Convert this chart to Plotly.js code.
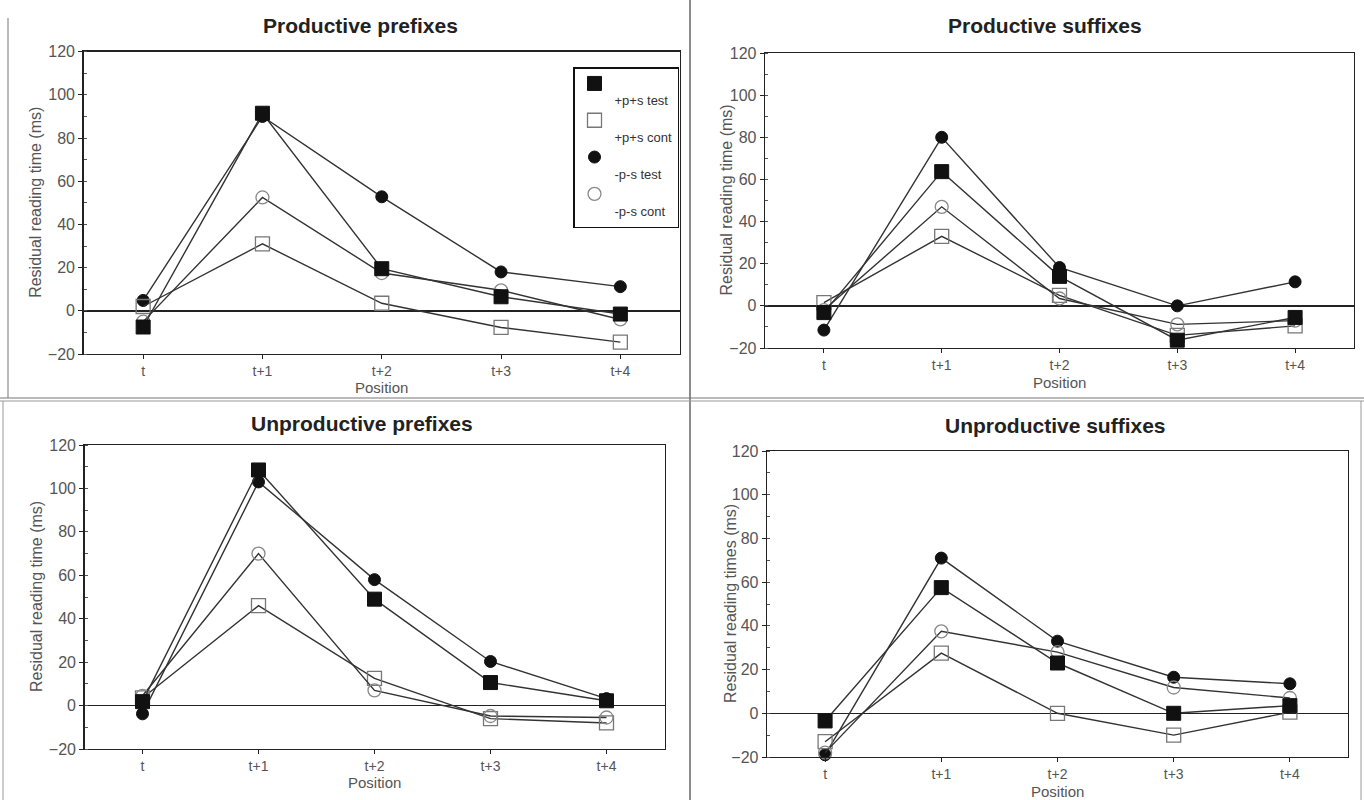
<!DOCTYPE html>
<html>
<head>
<meta charset="utf-8">
<script src="https://cdn.plot.ly/plotly-3.0.1.min.js"></script>
<style>html,body{margin:0;padding:0;background:#fff;}#chart{width:1364px;height:800px;}</style>
</head>
<body>
<div id="chart"></div>
<script>
// Categories (x positions)
const positions = ['t', 't+1', 't+2', 't+3', 't+4'];
const seriesNames = ['+p+s test', '+p+s cont', '-p-s test', '-p-s cont'];
const panelTitles = ['Productive prefixes', 'Productive suffixes', 'Unproductive prefixes', 'Unproductive suffixes'];
const yTitles = ['Residual reading time (ms)', 'Residual reading time (ms)', 'Residual reading time (ms)', 'Residual reading times (ms)'];
const yTickVals = [-20, 0, 20, 40, 60, 80, 100, 120];

// Productive prefixes
const prodPre_ppsTest = [-7.5, 91.5, 19.5, 6.5, -1.5];
const prodPre_ppsCont = [2, 31, 3.5, -7.7, -14.5];
const prodPre_mmsTest = [4.8, 90, 52.8, 18, 11.2];
const prodPre_mmsCont = [-5, 52.5, 17.5, 9.5, -4];

// Productive suffixes
const prodSuf_ppsTest = [-3.2, 63.7, 14, -16.3, -5.5];
const prodSuf_ppsCont = [1.5, 33, 5, -14, -9.5];
const prodSuf_mmsTest = [-11.5, 80, 18.2, 0, 11.4];
const prodSuf_mmsCont = [-2, 47, 3.5, -8.8, -7];

// Unproductive prefixes
const unprodPre_ppsTest = [1.8, 108.5, 49, 10.6, 2.2];
const unprodPre_ppsCont = [3.5, 46, 12.5, -6, -8];
const unprodPre_mmsTest = [-3.8, 103, 58, 20.3, 3.2];
const unprodPre_mmsCont = [4.5, 70, 7, -4.8, -5.5];

// Unproductive suffixes
const unprodSuf_ppsTest = [-3.5, 57.5, 23, 0, 3.5];
const unprodSuf_ppsCont = [-13, 27.5, 0, -10, 0.5];
const unprodSuf_mmsTest = [-19, 71, 33, 16.5, 13.5];
const unprodSuf_mmsCont = [-18, 37.5, 28, 11.8, 7];

const panels = [
  [prodPre_ppsTest, prodPre_ppsCont, prodPre_mmsTest, prodPre_mmsCont],
  [prodSuf_ppsTest, prodSuf_ppsCont, prodSuf_mmsTest, prodSuf_mmsCont],
  [unprodPre_ppsTest, unprodPre_ppsCont, unprodPre_mmsTest, unprodPre_mmsCont],
  [unprodSuf_ppsTest, unprodSuf_ppsCont, unprodSuf_mmsTest, unprodSuf_mmsCont]
];

// styles per series
const markerStyles = [
  {symbol: 'square', size: 14, color: '#111', line: {color: '#111', width: 1}},
  {symbol: 'square-open', size: 14, color: '#777', line: {color: '#777', width: 1.3}},
  {symbol: 'circle', size: 12, color: '#111', line: {color: '#111', width: 1}},
  {symbol: 'circle-open', size: 13, color: '#888', line: {color: '#888', width: 1.3}}
];
const drawOrder = [2, 1, 3, 0];

// pixel-based domains (paper 1364 x 800)
const W = 1364, H = 800;
const boxes = [
  {l: 83.5, r: 680, t: 51.7, b: 354},
  {l: 765, r: 1354, t: 53, b: 348},
  {l: 84.5, r: 664.5, t: 445, b: 749},
  {l: 767, r: 1348, t: 451, b: 757}
];
const titlePos = [
  {x: 360, y: 25}, {x: 1045, y: 25}, {x: 362, y: 423}, {x: 1055, y: 425}
];
const posTitleY = [387, 382, 782, 791];
const yTitleX = [36, 726, 36, 730];

const FONT = '"Liberation Sans Narrow", "Liberation Sans", Arial, sans-serif';
const traces = [];
const layout = {
  width: W, height: H,
  margin: {l: 0, r: 0, t: 0, b: 0},
  paper_bgcolor: '#ffffff',
  plot_bgcolor: '#ffffff',
  font: {family: FONT, color: '#444', size: 15},
  showlegend: true,
  legend: {
    x: 573 / W, y: 1 - 67 / H, xanchor: 'left', yanchor: 'top',
    bgcolor: '#ffffff', bordercolor: '#111', borderwidth: 1.5,
    font: {family: FONT, size: 13, color: '#333'},
    valign: 'top', itemwidth: 30, tracegroupgap: 0
  },
  annotations: [],
  shapes: []
};

// legend-only entries (marker symbol only, no data points)
seriesNames.forEach((nm, s) => {
  traces.push({
    type: 'scatter', mode: 'markers', x: [null], y: [null],
    name: '<br>' + nm, legendrank: s + 1, showlegend: true,
    marker: markerStyles[s], hoverinfo: 'skip'
  });
});

panels.forEach((vals, p) => {
  const ax = p === 0 ? '' : String(p + 1);
  const b = boxes[p];
  drawOrder.forEach(s => {
    traces.push({
      type: 'scatter', mode: 'lines+markers',
      x: positions, y: vals[s],
      xaxis: 'x' + ax, yaxis: 'y' + ax,
      name: seriesNames[s],
      showlegend: false,
      line: {color: '#333', width: 1.4},
      marker: markerStyles[s],
      cliponaxis: false
    });
  });
  layout['xaxis' + ax] = {
    domain: [b.l / W, b.r / W],
    anchor: 'y' + ax,
    type: 'category',
    range: [-0.5, 4.5],
    showline: true, mirror: true, linecolor: '#222', linewidth: 1.3,
    ticks: 'outside', ticklen: 4, tickcolor: '#222', tickwidth: 1,
    showgrid: false, zeroline: false,
    tickfont: {family: FONT, size: 14, color: '#555'},
    fixedrange: true
  };
  layout['yaxis' + ax] = {
    domain: [1 - b.b / H, 1 - b.t / H],
    anchor: 'x' + ax,
    range: [-20, 120],
    tickvals: yTickVals,
    showline: true, mirror: true, linecolor: '#222', linewidth: 1.3,
    ticks: 'outside', ticklen: 4, tickcolor: '#222', tickwidth: 1,
    minor: {dtick: 10, ticks: 'inside', ticklen: 3, tickcolor: '#555'},
    showgrid: false,
    zeroline: true, zerolinecolor: '#222', zerolinewidth: 1.5,
    tickfont: {family: FONT, size: 16, color: '#555'},
    fixedrange: true
  };
  // panel title
  layout.annotations.push({
    text: '<b>' + panelTitles[p] + '</b>', showarrow: false,
    xref: 'paper', yref: 'paper', x: titlePos[p].x / W, y: 1 - titlePos[p].y / H,
    xanchor: 'center', yanchor: 'middle',
    font: {family: '"Liberation Sans", Arial, sans-serif', size: 21, color: '#222'}
  });
  // x-axis title
  layout.annotations.push({
    text: 'Position', showarrow: false,
    xref: 'paper', yref: 'paper', x: ((b.l + b.r) / 2) / W, y: 1 - posTitleY[p] / H,
    xanchor: 'center', yanchor: 'middle',
    font: {family: FONT, size: 15, color: '#555'}
  });
  // y-axis title
  layout.annotations.push({
    text: yTitles[p], showarrow: false, textangle: -90,
    xref: 'paper', yref: 'paper', x: yTitleX[p] / W, y: 1 - ((b.t + b.b) / 2) / H,
    xanchor: 'center', yanchor: 'middle',
    font: {family: FONT, size: 16, color: '#555'}
  });
});

// scan panel separators
layout.shapes.push(
  {type: 'line', xref: 'paper', yref: 'paper', x0: 690 / W, x1: 690 / W, y0: 0, y1: 1, line: {color: '#666', width: 1.5}},
  {type: 'line', xref: 'paper', yref: 'paper', x0: 0, x1: 1, y0: 1 - 398 / H, y1: 1 - 398 / H, line: {color: '#777', width: 1.2}},
  {type: 'line', xref: 'paper', yref: 'paper', x0: 0, x1: 1, y0: 1 - 401 / H, y1: 1 - 401 / H, line: {color: '#999', width: 1}},
  {type: 'line', xref: 'paper', yref: 'paper', x0: 8 / W, x1: 8 / W, y0: 1 - 398 / H, y1: 1 - 18 / H, line: {color: '#777', width: 1}},
  {type: 'line', xref: 'paper', yref: 'paper', x0: 3 / W, x1: 3 / W, y0: 0, y1: 1 - 401 / H, line: {color: '#999', width: 1}},
  {type: 'line', xref: 'paper', yref: 'paper', x0: 1361 / W, x1: 1361 / W, y0: 0, y1: 1 - 401 / H, line: {color: '#999', width: 1}}
);

Plotly.newPlot('chart', traces, layout, {displayModeBar: false, staticPlot: true});
</script>
</body>
</html>
